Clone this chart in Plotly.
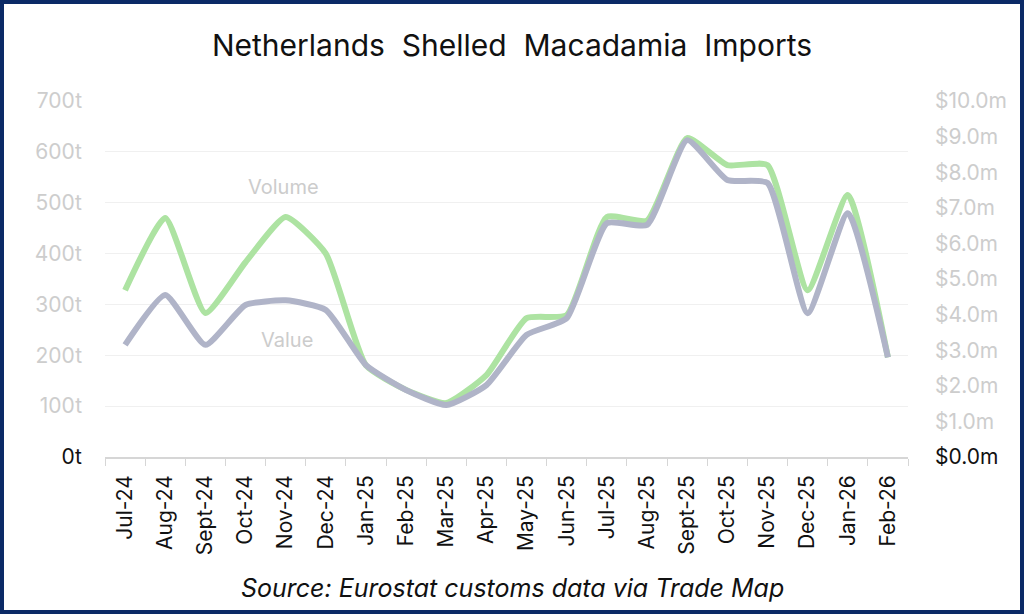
import plotly.graph_objects as go

months = ["Jul-24", "Aug-24", "Sept-24", "Oct-24", "Nov-24", "Dec-24", "Jan-25", "Feb-25",
          "Mar-25", "Apr-25", "May-25", "Jun-25", "Jul-25", "Aug-25", "Sept-25", "Oct-25",
          "Nov-25", "Dec-25", "Jan-26", "Feb-26"]
volume_t = [328, 470, 283, 383, 472, 400, 180, 132, 106, 161, 273, 279,
            472, 465, 627, 574, 574, 328, 515, 196]
value_m = [3.15, 4.55, 3.15, 4.27, 4.40, 4.13, 2.58, 1.88, 1.46, 2.02, 3.43, 3.90,
           6.57, 6.52, 8.90, 7.78, 7.70, 4.04, 6.85, 2.80]

left_ticks = [0, 100, 200, 300, 400, 500, 600, 700]
left_text = ["0t", "100t", "200t", "300t", "400t", "500t", "600t", "700t"]
right_ticks = [0, 1, 2, 3, 4, 5, 6, 7, 8, 9, 10]
right_text = ["$0.0m", "$1.0m", "$2.0m", "$3.0m", "$4.0m", "$5.0m", "$6.0m", "$7.0m",
              "$8.0m", "$9.0m", "$10.0m"]

FONT = "Inter"
W, H = 1024, 614
ML, MR, MT, MB = 105, 116, 101, 157
PW, PH = W - ML - MR, H - MT - MB


def px(x):
    return (x - ML) / PW


def py(y):
    return (H - MB - y) / PH


def fade(txt, i):
    return txt if i == 0 else f"<span style='color:#cdcdcd'>{txt}</span>"


fig = go.Figure()
fig.add_trace(go.Scatter(x=months, y=value_m, yaxis="y2", mode="lines", name="Value",
                         line=dict(color="#b0b4c8", width=6, shape="spline", smoothing=0.5)))
fig.add_trace(go.Scatter(x=months, y=volume_t, mode="lines", name="Volume",
                         line=dict(color="#ade3a2", width=6, shape="spline", smoothing=0.5)))

fig.update_layout(
    width=W, height=H,
    margin=dict(l=ML, r=MR, t=MT, b=MB),
    paper_bgcolor="white", plot_bgcolor="white",
    showlegend=False,
    font=dict(family=FONT, color="#111111"),
    title=dict(text="Netherlands\u00a0 Shelled\u00a0 Macadamia\u00a0 Imports",
               x=0.5, xref="container", xanchor="center",
               y=1 - 45 / H, yanchor="middle",
               font=dict(family=FONT, size=30, color="#111111")),
    xaxis=dict(type="category", tickson="boundaries", ticks="outside", ticklen=7,
               tickcolor="#d6d6d6", showline=True, linecolor="#d6d6d6", linewidth=1.5,
               showgrid=False, tickangle=-90, tickfont=dict(size=21, color="#111111"),
               ticklabelstandoff=8, range=[-0.5, len(months) - 0.5]),
    yaxis=dict(range=[0, 700], tickvals=left_ticks,
               ticktext=[fade(t, i) for i, t in enumerate(left_text)],
               showgrid=True, gridcolor="#f0f0f0", gridwidth=1, zeroline=False,
               tickfont=dict(size=21, color="#111111"), ticklabelstandoff=22),
    yaxis2=dict(range=[0, 10], tickvals=right_ticks,
                ticktext=[fade(t, i) for i, t in enumerate(right_text)],
                overlaying="y", side="right", showgrid=False, zeroline=False,
                tickfont=dict(size=21, color="#111111"), ticklabelstandoff=26),
)

fig.add_annotation(text="Volume", x=px(283), y=py(187), xref="paper", yref="paper",
                   xanchor="center", yanchor="middle", showarrow=False,
                   font=dict(family=FONT, size=20, color="#cccccc"))
fig.add_annotation(text="Value", x=px(287), y=py(340), xref="paper", yref="paper",
                   xanchor="center", yanchor="middle", showarrow=False,
                   font=dict(family=FONT, size=20, color="#cccccc"))
fig.add_annotation(text="<i>Source: Eurostat customs data via Trade Map</i>",
                   x=px(512), y=py(588), xref="paper", yref="paper",
                   xanchor="center", yanchor="middle", showarrow=False,
                   font=dict(family=FONT, size=25, color="#111111"))

fig.add_shape(type="rect", xref="paper", yref="paper",
              x0=px(2), x1=px(1022), y0=py(612), y1=py(2),
              line=dict(color="#0b2a66", width=4), fillcolor="rgba(0,0,0,0)", layer="above")

fig.write_html("out.html", config={"displayModeBar": False},
               post_script="document.body.style.margin='0';document.body.style.overflow='hidden';")
